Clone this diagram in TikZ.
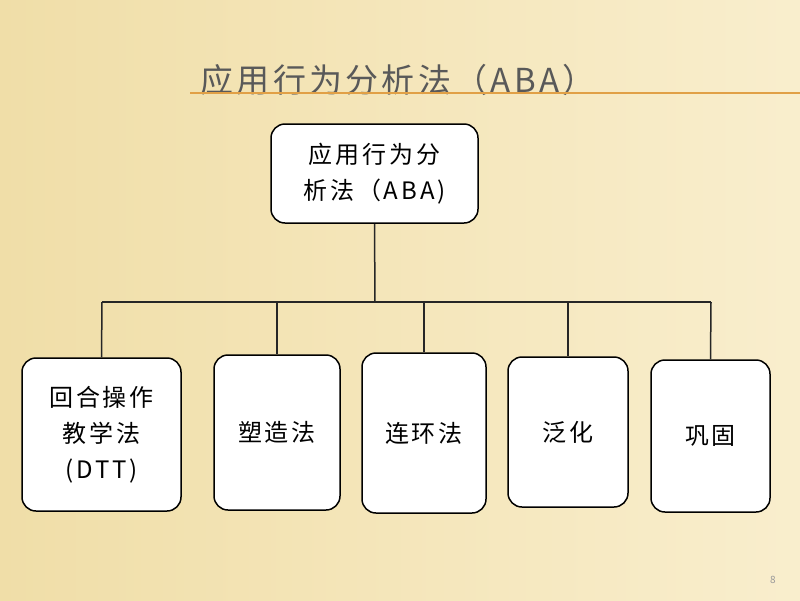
\documentclass[tikz,border=0pt]{standalone}
\usepackage{fontspec}
\setmainfont{Noto Sans CJK SC}
\newfontfamily\spacedfont[LetterSpace=12]{Noto Sans CJK SC}
\newfontfamily\titlefont[LetterSpace=10,BoldFont=*]{Noto Sans CJK SC}
\begin{document}
\begin{tikzpicture}[x=1pt,y=-1pt,
  box/.style={draw=black,line width=1.5pt,fill=white,rounded corners=14pt,align=center,font=\spacedfont\fontsize{24}{36}\selectfont,inner sep=0pt},
  conn/.style={draw=black!85,line width=1.5pt}]
\useasboundingbox (0,0) rectangle (800,600);
\shade[left color={rgb,255:red,240;green,222;blue,168},right color={rgb,255:red,249;green,238;blue,205}] (0,0) rectangle (800,600);
\node (title)[text=black!65,font=\titlefont\bfseries\fontsize{33}{36}\selectfont] at (398,80) {应用行为分析法（ABA）};
\draw[color={rgb,255:red,225;green,160;blue,70},line width=1.2pt] (190,93) -- (800,93);
\node (root)[box,minimum width=207pt,minimum height=99pt] at (374.5,173.5) {应用行为分\\析法（ABA)};
\node (c1)[box,minimum width=159pt,minimum height=153pt] at (101.5,434.5) {回合操作\\教学法\\(DTT)};
\node (c2)[box,minimum width=126pt,minimum height=155pt] at (277,432.5) {塑造法};
\node (c3)[box,minimum width=124pt,minimum height=160pt] at (424,433) {连环法};
\node (c4)[box,minimum width=120pt,minimum height=150pt] at (568,432) {泛化};
\node (c5)[box,minimum width=119pt,minimum height=152pt] at (710.5,436) {巩固};
\coordinate (bus) at (375,302);
\draw[conn] (root.south) -- (bus);
\draw[conn] (102,302) -- (711,302);
\foreach \c/\x in {c1/102,c2/277,c3/424,c4/568,c5/711}{
  \draw[conn] (\x,302) -- (\c.north);
}
\node (pg)[text=black!40,font=\fontsize{10}{12}\selectfont] at (773,580) {8};
\end{tikzpicture}
\end{document}
